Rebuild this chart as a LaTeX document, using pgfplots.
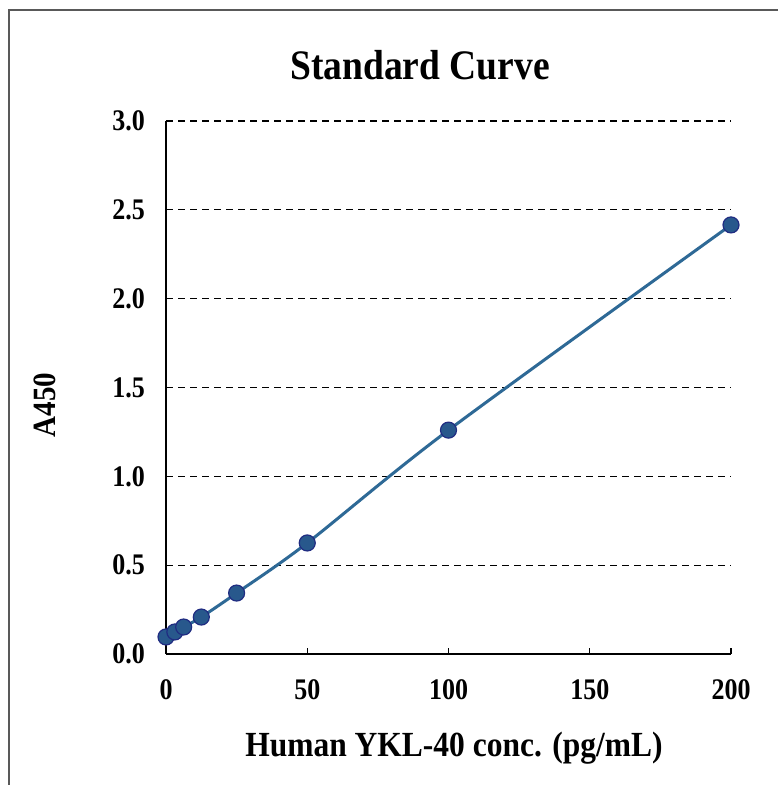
\documentclass[border=0pt]{standalone}
\usepackage{pgfplots}
\pgfplotsset{compat=1.18}
\usepackage{fontspec}
\setmainfont{Liberation Serif}
\definecolor{lineblue}{RGB}{46,105,150}
\definecolor{markfill}{RGB}{40,88,140}
\definecolor{markdraw}{RGB}{32,44,130}
\begin{document}
\begin{tikzpicture}[x=1pt,y=1pt]
\useasboundingbox (0,0) rectangle (778,785);
\fill[white] (0,0) rectangle (778,785);
\draw[line width=2pt, color=black!65] (9,0) -- (9,775) -- (779,775);
\begin{axis}[at={(166pt,131pt)}, anchor=south west, scale only axis,
  width=565pt, height=533pt,
  xmin=0, xmax=200, ymin=0, ymax=3,
  axis x line*=bottom, axis y line*=left,
  axis line style={line width=1.2pt, black},
  xtick={0,50,100,150,200}, ytick={0,0.5,1,1.5,2,2.5,3},
  tick align=inside, major tick length=6pt,
  xtick style={line width=1.2pt, black},
  ytick style={draw=none},
  /pgf/number format/assume math mode=true,
  tick label style={font=\fontsize{26pt}{30pt}\selectfont\bfseries},
  xticklabel={\scalebox{1}[1.15]{\pgfmathprintnumber{\tick}}},
  yticklabel={\scalebox{1}[1.15]{\pgfmathprintnumber[fixed,fixed zerofill,precision=1]{\tick}}},
  yticklabel style={inner sep=0pt, xshift=-21pt, anchor=east},
  xticklabel style={inner sep=0pt, yshift=-25pt, anchor=north},
  ymajorgrids,
  grid style={line width=1.3pt, black, dash pattern=on 7pt off 5pt},
  clip=false,
]
\addplot[lineblue, line width=3pt, smooth, tension=0.5] coordinates {
(0,0.096) (3.125,0.124) (6.25,0.152) (12.5,0.208) (25,0.343) (50,0.625) (100,1.26) (200,2.415)
};
\addplot[only marks, mark=*, mark size=8pt, mark options={fill=markfill, draw=markdraw, line width=1.2pt}] coordinates {
(0,0.096) (3.125,0.124) (6.25,0.152) (12.5,0.208) (25,0.343) (50,0.625) (100,1.26) (200,2.415)
};
\end{axis}
\node[font=\fontsize{37.5pt}{40pt}\selectfont\bfseries] at (420,720) {\scalebox{1}[1.12]{Standard Curve}};
\node[font=\fontsize{31.5pt}{34pt}\selectfont\bfseries] at (454,37) {\scalebox{1}[1.12]{Human YKL-40 conc. (pg/mL)}};
\node[font=\fontsize{29pt}{32pt}\selectfont\bfseries, rotate=90] at (45,380) {\scalebox{1}[1.12]{A450}};
\end{tikzpicture}
\end{document}
